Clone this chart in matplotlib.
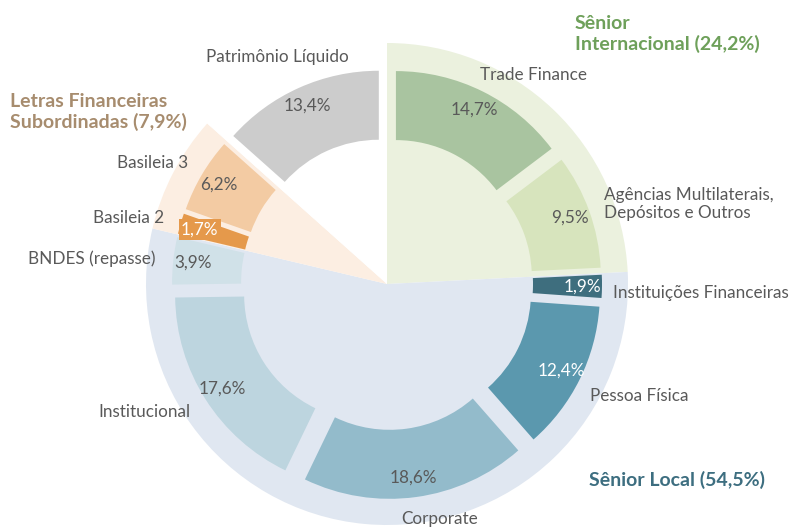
import math
import matplotlib.pyplot as plt

plt.rcParams['font.family'] = ['Lato', 'DejaVu Sans']

# groups (outer background ring)
group_names = ['Sênior\nInternacional (24,2%)', 'Sênior Local (54,5%)',
               'Letras Financeiras\nSubordinadas (7,9%)', '']
group_vals = [24.2, 54.5, 7.9, 13.4]
group_bg = ['#EBF1DE', '#E0E7F1', '#FCEEE2', 'white']
group_txt = ['#6EA05A', '#3D6E80', '#A78C6E', 'white']

# segments (inner ring)
cats = ['Trade Finance', 'Agências Multilaterais,\nDepósitos e Outros',
        'Instituições Financeiras', 'Pessoa Física', 'Corporate', 'Institucional',
        'BNDES (repasse)', 'Basileia 2', 'Basileia 3', 'Patrimônio Líquido']
vals = [14.7, 9.5, 1.9, 12.4, 18.6, 17.6, 3.9, 1.7, 6.2, 13.4]
colors = ['#A9C4A0', '#D7E4BD', '#3E6E7E', '#5B98AE', '#93BBCB', '#BDD5DF',
          '#D0E1E8', '#E5994B', '#F3CBA3', '#CCCCCC']
pct_color = ['#595959', '#595959', 'white', 'white', '#595959', '#595959',
             '#595959', 'white', '#595959', '#595959']

gray = '#595959'
W, H = 790, 527
cx, cy = 387, H - 284

fig = plt.figure(figsize=(7.9, 5.27), dpi=100)
ax = fig.add_axes([0, 0, 1, 1])

ax.pie(group_vals, colors=group_bg, radius=241, center=(cx, cy),
       startangle=90, counterclock=False, frame=True)
ax.pie(vals, colors=colors, radius=195, center=(cx, cy), startangle=90,
       counterclock=False, explode=[20] * len(vals),
       wedgeprops=dict(width=69, linewidth=0), frame=True)

# percentage labels at the middle of each slice
total = sum(vals)
start = 90.0
for v, c in zip(vals, pct_color):
    ang = start - 360 * v / total / 2
    start -= 360 * v / total
    x = cx + 195 * math.cos(math.radians(ang))
    y = cy + 195 * math.sin(math.radians(ang))
    s = f'{v:.1f}'.replace('.', ',') + '%'
    box = None
    if v == 1.7:
        box = dict(boxstyle='square,pad=0.15', fc='#E5994B', ec='none')
    ax.text(x, y, s, ha='center', va='center', fontsize=12.3, color=c, bbox=box)

# category labels
lab_pos = [(534, 75, 'center'), (604, 204, 'left'), (613, 293, 'left'),
           (590, 396, 'left'), (440, 519, 'center'), (190, 412, 'right'),
           (156, 259, 'right'), (164, 218, 'right'), (188, 163, 'right'),
           (277, 57, 'center')]
for name, (x, y, ha) in zip(cats, lab_pos):
    ax.text(x, H - y, name, ha=ha, va='center', fontsize=12.3, color=gray,
            linespacing=1.2)

# group titles
title_pos = [(575, 34), (589, 480), (10, 112)]
for name, c, (x, y) in zip(group_names[:3], group_txt[:3], title_pos):
    ax.text(x, H - y, name, ha='left', va='center', fontsize=14,
            fontweight='bold', color=c, linespacing=1.25)

ax.set_xlim(0, W)
ax.set_ylim(0, H)
ax.axis('off')
fig.savefig('out.png', dpi=100)
